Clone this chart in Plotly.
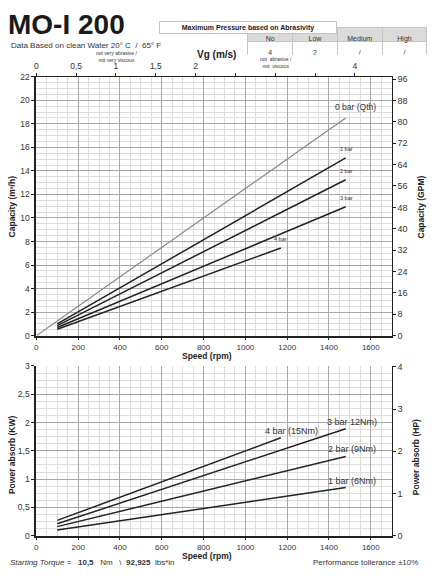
import plotly.graph_objects as go

# chart values
speed_full = [100, 1480]
speed_4bar = [100, 1170]
speed_qth = [0, 1480]

cap_qth = [0, 18.5]
cap_1bar = [1.0, 15.1]
cap_2bar = [0.85, 13.25]
cap_3bar = [0.7, 10.95]
cap_4bar = [0.55, 7.45]

pow_1bar = [0.10, 0.85]
pow_2bar = [0.16, 1.40]
pow_3bar = [0.21, 1.89]
pow_4bar = [0.27, 1.73]

abrasivity_levels = ["No", "Low", "Medium", "High"]
max_pressure = ["4", "2", "/", "/"]

vg_ticks = [0, 0.5, 1, 1.5, 2, 2.5, 3, 3.5, 4]
vg_labels = ["0", "0,5", "1", "1,5", "2", "", "", "", "4"]
kw_ticks = [0, 0.5, 1, 1.5, 2, 2.5, 3]
kw_labels = ["0", "0,5", "1", "1,5", "2", "2,5", "3"]

RPM_PER_MS = 381.0     # speed (rpm) giving 1 m/s on the Vg axis
GPM_PER_M3H = 4.403
HP_PER_KW = 1.341

W, H = 432, 580
FONT = "Liberation Sans, Arial, sans-serif"
DARK = "#222222"


def fx(p):
    return p / W


def fy(p):
    return 1 - p / H


x_dom = [fx(34.5), fx(391.5)]
top_dom = [fy(336.5), fy(73)]
bot_dom = [fy(540), fy(367.3)]

fig = go.Figure()

# capacity curves
fig.add_trace(go.Scatter(x=speed_qth, y=cap_qth, mode="lines",
                         line=dict(color="#888888", width=1.2), xaxis="x", yaxis="y"))
for sp, cap in [(speed_full, cap_1bar), (speed_full, cap_2bar),
                (speed_full, cap_3bar), (speed_4bar, cap_4bar)]:
    fig.add_trace(go.Scatter(x=sp, y=cap, mode="lines",
                             line=dict(color=DARK, width=1.5), xaxis="x", yaxis="y"))

# power curves
for sp, pw in [(speed_full, pow_1bar), (speed_full, pow_2bar),
               (speed_full, pow_3bar), (speed_4bar, pow_4bar)]:
    fig.add_trace(go.Scatter(x=sp, y=pw, mode="lines",
                             line=dict(color=DARK, width=1.5), xaxis="x3", yaxis="y3"))

# invisible traces so the secondary axes get drawn
fig.add_trace(go.Scatter(x=[0], y=[0], mode="markers", marker=dict(opacity=0),
                         xaxis="x2", yaxis="y", hoverinfo="skip"))
fig.add_trace(go.Scatter(x=[0], y=[0], mode="markers", marker=dict(opacity=0),
                         xaxis="x", yaxis="y2", hoverinfo="skip"))
fig.add_trace(go.Scatter(x=[0], y=[0], mode="markers", marker=dict(opacity=0),
                         xaxis="x3", yaxis="y4", hoverinfo="skip"))

# abrasivity table
fig.add_trace(go.Table(
    domain=dict(x=[fx(247), fx(427)], y=[fy(51), fy(23)]),
    columnwidth=[1, 1, 1, 1],
    header=dict(values=abrasivity_levels, fill_color="#dadada", line_color="#c4c4c4",
                height=14, font=dict(family=FONT, size=7, color="#333"), align="center"),
    cells=dict(values=[[v] for v in max_pressure], fill_color="white", line_color="#c4c4c4",
               height=14, font=dict(family=FONT, size=7, color="#333"), align="center"),
))

grid_major = "#a8a8a8"
grid_minor = "#dddddd"
tickfont = dict(family=FONT, size=8.5, color="#333")

speed_axis = dict(domain=x_dom, range=[0, 1700], tickvals=list(range(0, 1601, 200)),
                  showgrid=True, gridcolor=grid_major, gridwidth=0.8,
                  minor=dict(dtick=50, showgrid=True, gridcolor=grid_minor, gridwidth=0.6),
                  showline=True, linecolor=DARK, linewidth=1.5, ticks="outside",
                  ticklen=3, tickcolor=DARK, zeroline=False,
                  tickfont=dict(family=FONT, size=8, color="#333"), fixedrange=True)

fig.update_layout(
    width=W, height=H,
    margin=dict(l=0, r=0, t=0, b=0),
    paper_bgcolor="white", plot_bgcolor="white",
    showlegend=False,
    font=dict(family=FONT, color="#333"),
    xaxis=dict(speed_axis, anchor="y"),
    xaxis2=dict(overlaying="x", side="top", anchor="y", range=[0, 1700 / RPM_PER_MS],
                tickvals=vg_ticks, ticktext=vg_labels, showgrid=False, showline=True,
                linecolor=DARK, linewidth=1, ticks="outside", ticklen=3, tickcolor=DARK,
                zeroline=False, tickfont=dict(family=FONT, size=8.5, color="#333")),
    yaxis=dict(domain=top_dom, anchor="x", range=[0, 22], dtick=2,
               showgrid=True, gridcolor=grid_major, gridwidth=0.8,
               minor=dict(dtick=0.5, showgrid=True, gridcolor=grid_minor, gridwidth=0.6),
               showline=True, linecolor=DARK, linewidth=2, ticks="outside", ticklen=3,
               tickcolor=DARK, zeroline=False, tickfont=tickfont),
    yaxis2=dict(overlaying="y", side="right", anchor="x", range=[0, 22 * GPM_PER_M3H],
                dtick=8, showgrid=False, showline=True, linecolor=DARK, linewidth=1.2,
                ticks="outside", ticklen=3, tickcolor=DARK, zeroline=False,
                tickfont=dict(family=FONT, size=9, color="#333")),
    xaxis3=dict(speed_axis, anchor="y3"),
    yaxis3=dict(domain=bot_dom, anchor="x3", range=[0, 3], tickvals=kw_ticks,
                ticktext=kw_labels, showgrid=True, gridcolor=grid_major, gridwidth=0.8,
                minor=dict(dtick=0.125, showgrid=True, gridcolor=grid_minor, gridwidth=0.6),
                showline=True, linecolor=DARK, linewidth=2, ticks="outside", ticklen=3,
                tickcolor=DARK, zeroline=False, tickfont=tickfont),
    yaxis4=dict(overlaying="y3", side="right", anchor="x3", range=[0, 3 * HP_PER_KW],
                dtick=1, showgrid=False, showline=True, linecolor=DARK, linewidth=1.2,
                ticks="outside", ticklen=3, tickcolor=DARK, zeroline=False,
                tickfont=dict(family=FONT, size=9, color="#333")),
)

ann = []


def text(x, y, s, size, bold=False, angle=0, xanchor="center", color="#333"):
    if bold:
        s = "<b>" + s + "</b>"
    ann.append(dict(x=x, y=y, xref="paper", yref="paper", text=s, showarrow=False,
                    textangle=angle, xanchor=xanchor, yanchor="middle",
                    font=dict(family=FONT, size=size, color=color)))


# header
ann.append(dict(x=fx(4), y=fy(20), xref="paper", yref="paper", text="<b>MO-I 200</b>",
                showarrow=False, xanchor="left", yanchor="middle",
                font=dict(family=FONT, size=28, color="#1a1a1a")))
text(fx(7), fy(41), "Data Based on clean Water 20° C  /  65° F", 8, xanchor="left")
ann.append(dict(x=fx(337), y=fy(16.5), xref="paper", yref="paper",
                text="<b>Maximum Pressure based on Abrasivity</b>", showarrow=False,
                width=176, height=11, bordercolor="#c4c4c4", borderwidth=1, borderpad=0,
                bgcolor="white", font=dict(family=FONT, size=7, color="#222")))

# axis titles
text(fx(215), fy(50), "Vg (m/s)", 10, bold=True, color="#222")
text(fx(115), fy(52.5), "not very abrasive /<br>not very viscous", 5)
text(fx(275), fy(59), "not  abrasive /<br>not  viscous", 5)
text(fx(11), fy(205), "Capacity (m³/h)", 8.5, bold=True, angle=-90, color="#222")
text(fx(421), fy(206), "Capacity (GPM)", 8.5, bold=True, angle=-90, color="#222")
text(fx(206), fy(357.5), "Speed (rpm)", 8.5, bold=True, color="#222")
text(fx(10), fy(457), "Power absorb (KW)", 8.5, bold=True, angle=-90, color="#222")
text(fx(416), fy(460), "Power absorb (HP)", 8.5, bold=True, angle=-90, color="#222")
text(fx(206), fy(560.5), "Speed (rpm)", 8.5, bold=True, color="#222")

# footer
text(fx(6), fy(567), "<i>Starting Torque =</i>   <b>10,5</b>   Nm   \\  <b>92,925</b>  lbs*in",
     8, xanchor="left")
text(fx(420), fy(567), "Performance tollerance ±10%", 8, xanchor="right")

# curve labels
curve_labels = [
    ("x", "y", speed_qth[-1], cap_qth[-1], "0 bar (Qth)", 8.5, 10, 4),
    ("x", "y", speed_full[-1], cap_1bar[-1], "1 bar", 5.5, 1, 4),
    ("x", "y", speed_full[-1], cap_2bar[-1], "2 bar", 5.5, 1, 4),
    ("x", "y", speed_full[-1], cap_3bar[-1], "3 bar", 5.5, 1, 4),
    ("x", "y", speed_4bar[-1], cap_4bar[-1], "4 bar", 5.5, 0, 4),
    ("x3", "y3", speed_4bar[-1], pow_4bar[-1], "4 bar (15Nm)", 9, 11, 0),
    ("x3", "y3", speed_full[-1], pow_3bar[-1], "3 bar 12Nm)", 9, 6, 0),
    ("x3", "y3", speed_full[-1], pow_2bar[-1], "2 bar (9Nm)", 9, 6, 0),
    ("x3", "y3", speed_full[-1], pow_1bar[-1], "1 bar (6Nm)", 9, 6, 0),
]
for xr, yr, xv, yv, s, size, dx, dy in curve_labels:
    ann.append(dict(x=xv, y=yv, xref=xr, yref=yr, text=s, showarrow=False,
                    xanchor="center", yanchor="bottom", xshift=dx, yshift=dy,
                    font=dict(family=FONT, size=size, color="#333")))

fig.update_layout(annotations=ann)

# page body margin would shift the 432x580 figure, so drop it
fig.write_html("out.html", config={"displayModeBar": False},
               post_script="document.body.style.margin='0';")
